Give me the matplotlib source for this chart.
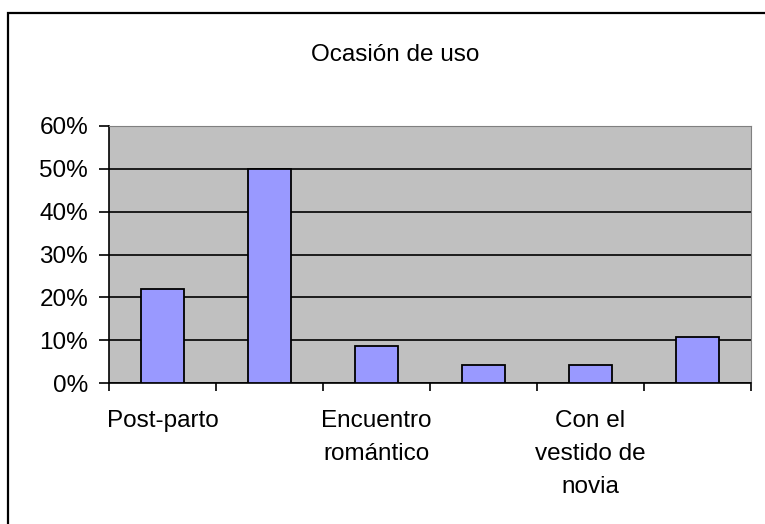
import matplotlib.pyplot as plt
import matplotlib.patches as patches
import numpy as np

# data
categories = ["Post-parto", "", "Encuentro\nromántico", "", "Con el\nvestido de\nnovia", ""]
values = [0.22, 0.50, 0.087, 0.043, 0.043, 0.108]
yTicks = [0, 0.1, 0.2, 0.3, 0.4, 0.5, 0.6]
yLabels = ["0%", "10%", "20%", "30%", "40%", "50%", "60%"]

plt.rcParams['font.family'] = ['Liberation Sans', 'DejaVu Sans']
fontSize = 17.5

fig = plt.figure(figsize=(7.65, 5.24), dpi=100)
fig.patch.set_facecolor('white')

# outer chart frame (runs off the right and bottom edges)
frame = patches.Rectangle((8 / 765, -0.2), 1.2, 1.2 - 13 / 524,
                          transform=fig.transFigure, fill=False,
                          edgecolor='black', linewidth=1.6)
fig.patches.append(frame)

ax = fig.add_axes([109 / 765, 141 / 524, 642 / 765, 257 / 524])
ax.set_facecolor('#C0C0C0')

xPos = np.arange(len(values))
ax.bar(xPos, values, width=0.4, color='#9999FF', edgecolor='black', linewidth=1.3, zorder=3)

ax.set_xlim(-0.5, len(values) - 0.5)
ax.set_ylim(0, 0.6)

# category boundaries get tick marks, centres get the labels
ax.set_xticks(np.arange(-0.5, len(values), 1.0))
ax.set_xticklabels([])
ax.set_xticks(xPos, minor=True)
ax.set_xticklabels(categories, minor=True, fontsize=fontSize, linespacing=1.63, va='top')
ax.tick_params(axis='x', which='major', direction='out', length=6, width=1.2)
ax.tick_params(axis='x', which='minor', length=0, pad=19.5)

ax.set_yticks(yTicks)
ax.set_yticklabels(yLabels, fontsize=fontSize)
ax.tick_params(axis='y', direction='out', length=7, width=1.2, pad=8)

ax.yaxis.grid(True, color='black', linewidth=1.2)
ax.set_axisbelow(True)

ax.spines['left'].set_color('black')
ax.spines['bottom'].set_color('black')
ax.spines['left'].set_linewidth(1.2)
ax.spines['bottom'].set_linewidth(1.2)
ax.spines['top'].set_color('#808080')
ax.spines['right'].set_color('#808080')

fig.text(395 / 765, 1 - 55 / 524, "Ocasión de uso", fontsize=fontSize, ha='center', va='center')

fig.savefig("out.png", dpi=100)
